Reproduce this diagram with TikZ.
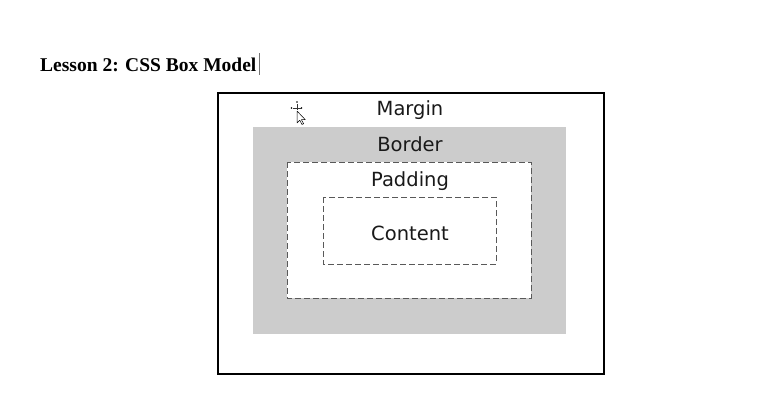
\documentclass[tikz,border=0pt]{standalone}
\usepackage{fontspec}
\setmainfont{Liberation Serif}
\newfontfamily\labelfont{DejaVu Sans}
\begin{document}
\begin{tikzpicture}[x=1pt,y=-1pt,
  dashbox/.style={draw=black!65,line width=1pt,dash pattern=on 6pt off 3pt,fill=white},
  boxlabel/.style={font=\labelfont\fontsize{19.5}{22}\selectfont,text=black!90,inner sep=0pt}]
  % canvas
  \fill[white] (0,0) rectangle (761,408);
  \useasboundingbox (0,0) rectangle (761,408);
  % heading and text caret
  \node[anchor=base west,inner sep=0pt,font=\bfseries\fontsize{19.5}{22}\selectfont] (title) at (40,71) {Lesson 2: CSS Box Model};
  \draw[black!55,line width=0.8pt] (259,53) -- (259,75);
  % margin box
  \draw[line width=2.2pt] (218,93) rectangle (604,374);
  % border band
  \fill[black!20] (253,127) rectangle (566,334);
  % padding box
  \draw[dashbox] (287,162) rectangle (531,298);
  % content box
  \draw[dashbox] (323,197) rectangle (496,264);
  % labels
  \node[boxlabel] (margin) at (410,110.5) {Margin};
  \node[boxlabel] (border) at (410,144.5) {Border};
  \node[boxlabel] (padding) at (410,181.5) {Padding};
  \node[boxlabel] (content) at (410,233) {Content};
  % pointer with move indicator
  \begin{scope}[shift={(297,111)},line width=0.5pt]
    \fill[black] (0,-9) circle (0.9) (-5.5,-3) circle (0.9) (4.5,-3) circle (0.9);
    \draw[black!80] (0,-7) -- (0,-1) (-4.5,-3) -- (3.5,-3);
    \filldraw[fill=white,draw=black,line join=round] (0,0) -- (0,12) -- (2.8,9.3) -- (5,13.5) -- (6.6,12.7) -- (4.4,8.7) -- (8.3,8.7) -- cycle;
  \end{scope}
\end{tikzpicture}
\end{document}
